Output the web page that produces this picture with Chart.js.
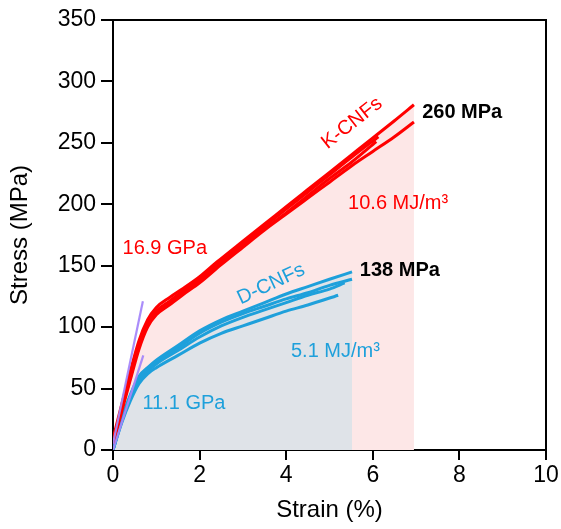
<!DOCTYPE html>
<html>
<head>
<meta charset="utf-8">
<script src="https://cdn.jsdelivr.net/npm/chart.js@4.4.1/dist/chart.umd.min.js"></script>
<style>
html,body{margin:0;padding:0;background:#fff;}
#wrap{width:561px;height:529px;}
</style>
</head>
<body>
<div id="wrap"><canvas id="c" width="561" height="529"></canvas></div>
<script>
// ---- Data (strain %, stress MPa) ----
const k1Strain = [0, 0.2, 0.4, 0.6, 0.8, 1.0, 1.3, 1.6, 2.0, 2.4, 3.0, 3.5, 4.0, 4.5, 5.0, 5.5, 6.0, 6.5, 6.95];
const k1Stress = [9, 37, 64, 89, 106, 116, 124, 131, 141, 153, 170, 184, 198, 212, 226, 240, 254, 268, 281];
const k2Strain = [0, 0.2, 0.4, 0.6, 0.8, 1.0, 1.3, 1.6, 2.0, 2.47, 3.0, 3.5, 4.0, 4.5, 5.0, 5.5, 6.0, 6.5, 6.95];
const k2Stress = [5, 31, 57, 82, 100, 110, 118, 126, 136, 150, 165, 179, 192, 205, 218, 231, 243, 255, 267];
const k3Strain = [0, 0.2, 0.4, 0.6, 0.8, 1.0, 1.3, 1.6, 2.0, 2.4, 3.0, 3.5, 4.0, 4.5, 5.0, 5.5, 6.13];
const k3Stress = [7, 34, 61, 87, 104, 113, 121, 129, 139, 151, 168, 182, 196, 210, 224, 238, 255];
const k4Strain = [0, 0.2, 0.4, 0.6, 0.8, 1.0, 1.3, 1.6, 2.0, 2.4, 3.0, 3.5, 4.0, 4.5, 5.0, 5.5, 6.08];
const k4Stress = [6, 33, 59, 85, 102, 111, 120, 127, 137, 149, 166, 180, 193, 207, 221, 234, 251];

const d1Strain = [0, 0.2, 0.4, 0.6, 0.8, 1.0, 1.5, 2.0, 2.5, 3.0, 3.5, 4.0, 4.5, 5.0, 5.52];
const d1Stress = [0, 25, 45, 60, 67, 73, 85, 97, 106, 113, 120, 127, 133, 139, 145];
const d2Strain = [0, 0.2, 0.4, 0.6, 0.8, 1.0, 1.5, 2.0, 2.5, 3.0, 3.5, 4.0, 4.5, 5.0, 5.52];
const d2Stress = [0, 24, 44, 58, 66, 72, 83, 95, 104, 111, 117, 123, 128, 134, 139];
const d3Strain = [0, 0.2, 0.4, 0.6, 0.8, 1.0, 1.5, 2.0, 2.5, 3.0, 3.5, 4.0, 4.5, 5.2];
const d3Stress = [0, 22, 40, 54, 62, 67, 77, 87, 95, 101, 107, 113, 118, 126];
const d4Strain = [0, 0.2, 0.4, 0.6, 0.8, 1.0, 1.5, 2.0, 2.5, 3.0, 3.5, 4.0, 4.5, 5.0, 5.35];
const d4Stress = [0, 23, 42, 56, 64, 70, 81, 92, 101, 108, 114, 120, 126, 131, 136];

const kModStrain = [0, 0.69];
const kModStress = [5, 121];
const dModStrain = [0, 0.7];
const dModStress = [0, 77];

const xTicks = [0, 2, 4, 6, 8, 10];
const yTicks = [0, 50, 100, 150, 200, 250, 300, 350];

const labels = [
  {text: '16.9 GPa', x: 0.22, y: 164, color: '#ff0000', bold: false},
  {text: '11.1 GPa', x: 0.68, y: 38, color: '#1ea0db', bold: false},
  {text: '10.6 MJ/m³', x: 5.43, y: 201, color: '#ff0000', bold: false},
  {text: '5.1 MJ/m³', x: 4.11, y: 80, color: '#1ea0db', bold: false},
  {text: '260 MPa', x: 7.14, y: 275, color: '#000000', bold: true},
  {text: '138 MPa', x: 5.7, y: 146, color: '#000000', bold: true},
];
const rotLabels = [
  {text: 'K-CNFs', x: 5.52, y: 266, color: '#ff0000', rot: -38},
  {text: 'D-CNFs', x: 3.65, y: 135, color: '#1ea0db', rot: -25},
];

function pts(xs, ys){ return xs.map((x,i)=>({x:x, y:ys[i]})); }

const RED = '#ff0000', BLUE = '#1ea0db', PURPLE = 'rgba(165,135,250,0.95)';
function line(xs, ys, color, w, order){
  return {data: pts(xs, ys), borderColor: color, borderWidth: w, pointRadius: 0, fill: false,
          cubicInterpolationMode: 'monotone', order: order};
}

const datasets = [
  {data: pts(k1Strain, k1Stress), borderWidth: 0, borderColor: 'rgba(0,0,0,0)', backgroundColor: '#fde7e7',
   fill: 'origin', pointRadius: 0, cubicInterpolationMode: 'monotone', order: 20},
  {data: pts(d1Strain, d1Stress), borderWidth: 0, borderColor: 'rgba(0,0,0,0)', backgroundColor: '#dfe3e8',
   fill: 'origin', pointRadius: 0, cubicInterpolationMode: 'monotone', order: 19},
  line(d3Strain, d3Stress, BLUE, 3, 8),
  line(d4Strain, d4Stress, BLUE, 3, 7),
  line(d2Strain, d2Stress, BLUE, 3, 6),
  line(d1Strain, d1Stress, BLUE, 3, 5),
  line(k2Strain, k2Stress, RED, 3, 4),
  line(k4Strain, k4Stress, RED, 3, 3),
  line(k3Strain, k3Stress, RED, 3, 2),
  line(k1Strain, k1Stress, RED, 3, 1),
  {data: pts(kModStrain, kModStress), borderColor: PURPLE, borderWidth: 2.2, pointRadius: 0, fill: false, order: 0},
  {data: pts(dModStrain, dModStress), borderColor: PURPLE, borderWidth: 2.2, pointRadius: 0, fill: false, order: 0},
];

const FONT = "'Liberation Sans', Arial, sans-serif";

const annot = {
  id: 'annot',
  afterDatasetsDraw(chart){
    const {ctx, chartArea: a, scales: {x, y}} = chart;
    ctx.save();
    ctx.strokeStyle = '#000'; ctx.lineWidth = 2;
    ctx.beginPath();
    ctx.moveTo(a.left, a.top); ctx.lineTo(a.right, a.top); ctx.lineTo(a.right, a.bottom);
    ctx.stroke();
    ctx.textBaseline = 'middle';
    for (const l of labels){
      ctx.font = (l.bold ? 'bold ' : '') + '20px ' + FONT;
      ctx.fillStyle = l.color; ctx.textAlign = 'left';
      ctx.fillText(l.text, x.getPixelForValue(l.x), y.getPixelForValue(l.y));
    }
    for (const l of rotLabels){
      ctx.save();
      ctx.translate(x.getPixelForValue(l.x), y.getPixelForValue(l.y));
      ctx.rotate(l.rot * Math.PI / 180);
      ctx.font = '20px ' + FONT; ctx.fillStyle = l.color; ctx.textAlign = 'center';
      ctx.fillText(l.text, 0, 0);
      ctx.restore();
    }
    ctx.restore();
  }
};

new Chart(document.getElementById('c'), {
  type: 'line',
  data: {datasets},
  plugins: [annot],
  options: {
    responsive: false, devicePixelRatio: 1, animation: false,
    layout: {padding: {top: 20, right: 15, left: 6, bottom: 0}},
    plugins: {legend: {display: false}, tooltip: {enabled: false}},
    scales: {
      x: {
        type: 'linear', min: 0, max: 10,
        afterBuildTicks: s => { s.ticks = xTicks.map(v => ({value: v})); },
        afterFit: s => { s.height = 79; },
        grid: {display: true, drawOnChartArea: false, drawTicks: true, tickLength: 10, color: '#000', lineWidth: 2},
        border: {display: true, color: '#000', width: 2},
        ticks: {color: '#000', font: {family: FONT, size: 23}, padding: 2, maxRotation: 0},
        title: {display: true, text: 'Strain (%)', color: '#000', font: {family: FONT, size: 24}, padding: {top: 10}}
      },
      y: {
        min: 0, max: 350,
        afterBuildTicks: s => { s.ticks = yTicks.map(v => ({value: v})); },
        afterFit: s => { s.width = 107; },
        grid: {display: true, drawOnChartArea: false, drawTicks: true, tickLength: 12, color: '#000', lineWidth: 2},
        border: {display: true, color: '#000', width: 2},
        ticks: {color: '#000', font: {family: FONT, size: 23}, padding: 5},
        title: {display: true, text: 'Stress (MPa)', color: '#000', font: {family: FONT, size: 24}, padding: {top: 0, bottom: 0}}
      }
    }
  }
});
</script>
</body>
</html>
